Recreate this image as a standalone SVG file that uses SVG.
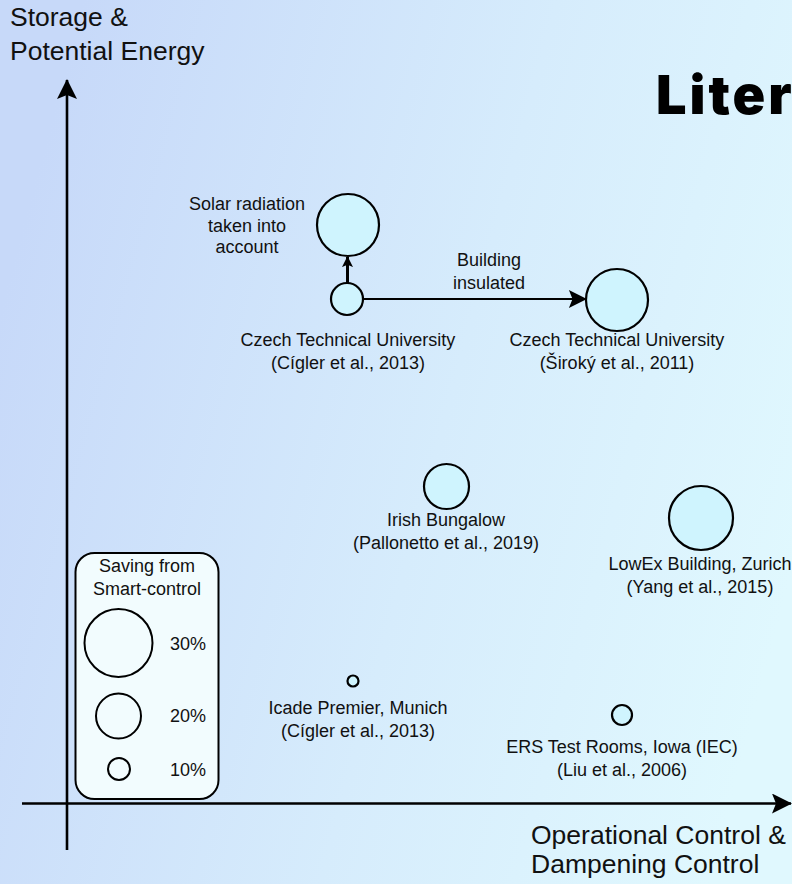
<svg xmlns="http://www.w3.org/2000/svg" width="792" height="884" viewBox="0 0 792 884">
  <defs>
    <linearGradient id="bg" x1="0" y1="0.35" x2="1" y2="0.65">
      <stop offset="0" stop-color="#c7d9f9"/>
      <stop offset="0.55" stop-color="#d6ecfc"/>
      <stop offset="1" stop-color="#e0f8fe"/>
    </linearGradient>
    <marker id="head" viewBox="0 0 20 20" refX="19" refY="10" markerWidth="20" markerHeight="20" markerUnits="userSpaceOnUse" orient="auto">
      <path d="M0,0 L20,10 L0,20 L4,10 Z" fill="#000"/>
    </marker>
    <marker id="headSmall" viewBox="0 0 12 12" refX="11" refY="6" markerWidth="11" markerHeight="11" markerUnits="userSpaceOnUse" orient="auto">
      <path d="M0,0 L12,6 L0,12 L2.5,6 Z" fill="#000"/>
    </marker>
    <marker id="headMid" viewBox="0 0 20 20" refX="19" refY="10" markerWidth="20" markerHeight="18" markerUnits="userSpaceOnUse" orient="auto">
      <path d="M0,0 L20,10 L0,20 L4,10 Z" fill="#000"/>
    </marker>
  </defs>
  <style>
    text { font-family: "Liberation Sans", Arial, sans-serif; fill: #111; }
    .lbl { font-size: 18px; text-anchor: middle; }
    .axis { font-size: 26.5px; }
    .title { font-family: Inter, "Liberation Sans", sans-serif; font-weight: 900; font-size: 54px; letter-spacing: 3px; fill: #000; }
    .node { fill: #cff4fe; stroke: #000; stroke-width: 2.2; }
    .leg { fill: #f2fcfe; stroke: #000; stroke-width: 2; }
    .line { stroke: #000; fill: none; }
  </style>

  <!-- background -->
  <rect x="0" y="0" width="792" height="884" fill="url(#bg)"/>

  <!-- heading, cut off at the right edge -->
  <text class="title" x="656" y="114">Liter</text>

  <!-- axes and connectors -->
  <g id="connectors">
    <line class="line" x1="67" y1="850" x2="67" y2="80" stroke-width="2.6" marker-end="url(#head)"/>
    <line class="line" x1="22" y1="803.5" x2="791" y2="803.5" stroke-width="2.6" marker-end="url(#head)"/>
    <line class="line" x1="347.5" y1="283" x2="347.5" y2="257" stroke-width="3" marker-end="url(#headSmall)"/>
    <line class="line" x1="363" y1="299" x2="586" y2="299" stroke-width="2" marker-end="url(#headMid)"/>
  </g>

  <!-- axis labels -->
  <g id="y-axis-label">
    <text class="axis" x="10" y="26">Storage &amp;</text>
    <text class="axis" x="10" y="60">Potential Energy</text>
  </g>
  <g id="x-axis-label">
    <text class="axis" x="531" y="844">Operational Control &amp;</text>
    <text class="axis" x="531" y="873">Dampening Control</text>
  </g>

  <!-- nodes -->
  <g id="solar-radiation">
    <circle class="node" cx="348" cy="225" r="31"/>
    <text class="lbl" x="247" y="210">Solar radiation</text>
    <text class="lbl" x="247" y="232">taken into</text>
    <text class="lbl" x="247" y="253">account</text>
  </g>

  <g id="ctu-cigler">
    <circle class="node" cx="347" cy="299" r="16"/>
    <text class="lbl" x="348" y="346">Czech Technical University</text>
    <text class="lbl" x="348" y="369">(Cígler et al., 2013)</text>
  </g>

  <g id="building-insulated">
    <text class="lbl" x="489" y="266">Building</text>
    <text class="lbl" x="489" y="289">insulated</text>
  </g>

  <g id="ctu-siroky">
    <circle class="node" cx="617" cy="300" r="31"/>
    <text class="lbl" x="617" y="346">Czech Technical University</text>
    <text class="lbl" x="617" y="369">(Široký et al., 2011)</text>
  </g>

  <g id="irish-bungalow">
    <circle class="node" cx="446.5" cy="486.5" r="22.5"/>
    <text class="lbl" x="446" y="526">Irish Bungalow</text>
    <text class="lbl" x="446" y="549">(Pallonetto et al., 2019)</text>
  </g>

  <g id="lowex-zurich">
    <circle class="node" cx="701" cy="518" r="32"/>
    <text class="lbl" x="700" y="570">LowEx Building, Zurich</text>
    <text class="lbl" x="700" y="593">(Yang et al., 2015)</text>
  </g>

  <g id="icade-munich">
    <circle class="node" cx="353" cy="681" r="5.5"/>
    <text class="lbl" x="358" y="714">Icade Premier, Munich</text>
    <text class="lbl" x="358" y="737">(Cígler et al., 2013)</text>
  </g>

  <g id="ers-iowa">
    <circle class="node" cx="622" cy="715" r="10"/>
    <text class="lbl" x="622" y="753">ERS Test Rooms, Iowa (IEC)</text>
    <text class="lbl" x="622" y="776">(Liu et al., 2006)</text>
  </g>

  <!-- legend -->
  <g id="legend">
    <rect class="leg" x="75.5" y="553" width="143" height="246" rx="19" ry="19"/>
    <text class="lbl" x="147" y="572">Saving from</text>
    <text class="lbl" x="147" y="595">Smart-control</text>
    <circle class="leg" cx="118.5" cy="643" r="34"/>
    <circle class="leg" cx="118.5" cy="716" r="22.5"/>
    <circle class="leg" cx="119" cy="769" r="11"/>
    <text class="lbl" x="188" y="650">30%</text>
    <text class="lbl" x="188" y="722">20%</text>
    <text class="lbl" x="188" y="776">10%</text>
  </g>
</svg>
